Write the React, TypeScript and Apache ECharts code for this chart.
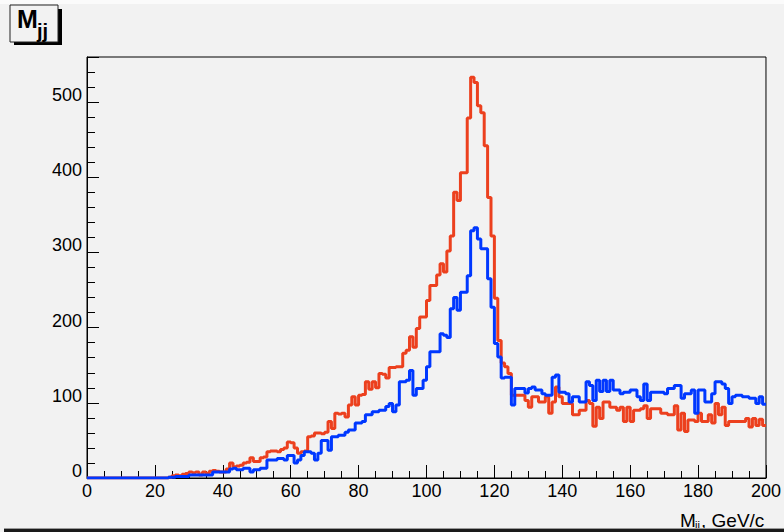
import React, { useEffect, useRef } from "react";
import * as echarts from "echarts";

// Bin lower edges are 0..199 (1 GeV bins), x range 0..200
const xMin = 0;
const xMax = 200;
const yMax = 560;

const redCounts = [
  0, 0, 0, 0, 0, 0, 0, 0, 0, 0,
  0, 0, 0, 0, 0, 0, 0, 0, 0, 0,
  0, 0, 0, 0, 1, 3, 4, 3, 5, 6,
  8, 7, 8, 4, 8, 6, 9, 10, 9, 8,
  8, 12, 20, 15, 16, 17, 20, 21, 27, 22,
  22, 27, 28, 35, 36, 36, 35, 38, 40, 48,
  47, 40, 33, 35, 36, 55, 56, 60, 60, 59,
  61, 75, 66, 86, 85, 86, 81, 97, 108, 97,
  110, 111, 128, 118, 128, 120, 139, 138, 133, 147,
  147, 148, 148, 166, 170, 188, 174, 199, 214, 214,
  236, 256, 256, 270, 285, 274, 302, 322, 380, 369,
  406, 406, 479, 533, 526, 495, 486, 442, 373, 322,
  239, 183, 153, 148, 139, 110, 110, 110, 110, 103,
  94, 108, 108, 101, 101, 108, 86, 101, 121, 108,
  99, 99, 99, 84, 84, 90, 90, 103, 99, 69,
  94, 79, 101, 101, 94, 94, 90, 94, 75, 94,
  75, 90, 90, 92, 96, 79, 92, 92, 92, 86,
  86, 84, 84, 96, 64, 86, 62, 77, 77, 75,
  86, 75, 75, 84, 73, 99, 84, 94, 70, 75,
  75, 75, 75, 75, 79, 68, 79, 70, 78, 70,
];

const blueCounts = [
  0, 0, 0, 0, 0, 0, 0, 0, 0, 0,
  0, 0, 0, 0, 0, 0, 0, 0, 0, 0,
  0, 0, 0, 0, 1, 1, 2, 2, 2, 2,
  4, 4, 4, 4, 4, 4, 4, 8, 8, 8,
  8, 8, 12, 13, 11, 11, 13, 13, 8, 11,
  11, 13, 13, 24, 24, 24, 26, 26, 24, 30,
  30, 20, 24, 30, 35, 35, 33, 24, 33, 50,
  50, 37, 55, 55, 57, 57, 61, 64, 64, 73,
  73, 75, 84, 84, 88, 88, 90, 90, 95, 99,
  88, 97, 128, 128, 130, 143, 110, 119, 119, 130,
  148, 168, 168, 168, 192, 190, 187, 225, 240, 223,
  247, 247, 269, 329, 333, 318, 305, 305, 265, 227,
  179, 161, 133, 134, 134, 97, 119, 119, 119, 113,
  119, 121, 117, 117, 112, 110, 110, 134, 137, 114,
  114, 112, 101, 108, 108, 101, 101, 128, 123, 103,
  130, 115, 130, 115, 130, 117, 117, 112, 114, 114,
  117, 117, 108, 103, 125, 103, 114, 114, 114, 114,
  112, 119, 119, 123, 123, 106, 112, 112, 117, 86,
  117, 117, 101, 101, 112, 128, 128, 125, 119, 99,
  108, 110, 110, 108, 108, 106, 106, 99, 108, 98,
];

const titleMain = "M";
const titleSub = "jj";
const xTitleMain = "M";
const xTitleSub = "jj";
const xTitleRest = ", GeV/c";

function toSteps(counts: number[]): number[][] {
  const pts = counts.map((v, i) => [xMin + i, v]);
  pts.push([xMin + counts.length, counts[counts.length - 1]]);
  return pts;
}

const LABEL_FONT = "Liberation Sans";

function txt(text: string, x: number, y: number, font: string, align = "left") {
  return {
    type: "text",
    x,
    y,
    z: 12,
    style: {
      text,
      fill: "#000",
      font,
      textAlign: align,
      textVerticalAlign: "middle",
      align,
      verticalAlign: "middle",
    },
  };
}

export default function App() {
  const ref = useRef<HTMLDivElement>(null);
  useEffect(() => {
    if (!ref.current) return;
    const chart = echarts.init(ref.current, undefined, { renderer: "svg" });
    const axisCommon = {
      type: "value" as const,
      axisLine: { show: true, onZero: false, lineStyle: { color: "#000", width: 1 } },
      splitLine: { show: false },
    };
    chart.setOption({
      animation: false,
      backgroundColor: "#f2f2f2",
      grid: {
        left: 87,
        right: 14,
        top: 57,
        bottom: 54,
        show: true,
        borderColor: "#000",
        borderWidth: 1,
        backgroundColor: "transparent",
      },
      xAxis: {
        ...axisCommon,
        min: xMin,
        max: xMax,
        interval: 20,
        axisTick: { show: true, inside: true, length: 13, lineStyle: { color: "#000" } },
        minorTick: { show: true, splitNumber: 4, length: 7, lineStyle: { color: "#000" } },
        axisLabel: {
          color: "#000",
          fontSize: 18,
          fontFamily: LABEL_FONT,
          margin: 4,
        },
      },
      yAxis: {
        ...axisCommon,
        min: 0,
        max: yMax,
        interval: 100,
        axisTick: { show: true, inside: true, length: 12, lineStyle: { color: "#000" } },
        minorTick: { show: true, splitNumber: 5, length: 8, lineStyle: { color: "#000" } },
        axisLabel: {
          color: "#000",
          fontSize: 18,
          fontFamily: LABEL_FONT,
          margin: 5,
          verticalAlign: "bottom",
          lineHeight: 14,
          showMaxLabel: false,
        },
      },
      series: [
        {
          type: "line",
          step: "end",
          data: toSteps(redCounts),
          showSymbol: false,
          lineStyle: { color: "#ec401e", width: 3 },
          itemStyle: { color: "#ec401e" },
          z: 2,
        },
        {
          type: "line",
          step: "end",
          data: toSteps(blueCounts),
          showSymbol: false,
          lineStyle: { color: "#0038ff", width: 3 },
          itemStyle: { color: "#0038ff" },
          z: 3,
        },
      ],
      graphic: [
        { type: "rect", shape: { x: 0, y: 0, width: 784, height: 4 }, style: { fill: "#fbfbfb" }, z: 1 },
        // title box with shadow
        { type: "rect", shape: { x: 14, y: 9, width: 48, height: 36 }, style: { fill: "#000" }, z: 10 },
        {
          type: "rect",
          shape: { x: 10, y: 5, width: 48, height: 37 },
          style: { fill: "#f2f2f2", stroke: "#222", lineWidth: 1 },
          z: 11,
        },
        txt(titleMain, 17, 19, 'bold 25px "Liberation Sans"'),
        txt(titleSub, 37, 31, 'bold 20px "Liberation Sans"'),
        // x-axis title
        txt(xTitleMain, 680, 520, '19px "Liberation Sans"'),
        txt(xTitleSub, 695, 525, '11px "Liberation Sans"'),
        txt(xTitleRest, 701, 520, '19px "Liberation Sans"'),
        // bottom window edge
        { type: "rect", shape: { x: 4, y: 528, width: 780, height: 1 }, style: { fill: "#9a9a9a" }, z: 20 },
        { type: "rect", shape: { x: 4, y: 529, width: 780, height: 3 }, style: { fill: "#1a1a1a" }, z: 20 },
      ],
    });
    return () => chart.dispose();
  }, []);
  return <div ref={ref} style={{ width: 784, height: 532, position: "fixed", left: 0, top: 0 }} />;
}
